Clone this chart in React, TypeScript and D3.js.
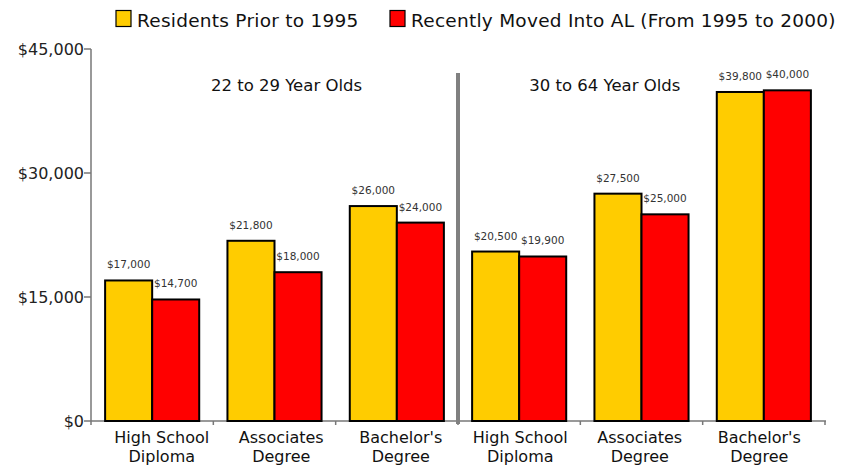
import React from "react";
import * as d3 from "d3";

const categories = ["High School|Diploma", "Associates|Degree", "Bachelor's|Degree", "High School|Diploma", "Associates|Degree", "Bachelor's|Degree"];
const residents = [17000, 21800, 26000, 20500, 27500, 39800];
const movedIn = [14700, 18000, 24000, 19900, 25000, 40000];
const seriesNames = ["Residents Prior to 1995", "Recently Moved Into AL (From 1995 to 2000)"];
const seriesColors = ["#FFCC00", "#FF0000"];
const groupTitles = ["22 to 29 Year Olds", "30 to 64 Year Olds"];
const yTicks = [0, 15000, 30000, 45000];

const W = 857, H = 465;
const left = 91, right = 825, top = 49, bottom = 421;
const font = "'DejaVu Sans', Verdana, sans-serif";

export default function App() {
  const idx = categories.map((_, i) => i);
  const x = d3.scaleBand<number>().domain(idx).range([left, right]).paddingInner(0).paddingOuter(0);
  const xLabel = d3.scaleBand<number>().domain(idx).range([102, 819]);
  const inner = d3.scaleBand<number>().domain([0, 1]).range([0, x.bandwidth()]).paddingOuter(0.3).paddingInner(0);
  const y = d3.scaleLinear().domain([0, 45000]).range([bottom, top]);
  const fmt = (v: number) => "$" + d3.format(",")(v);
  const series = [residents, movedIn];
  const bw = x.bandwidth();
  const divX = left + 3 * bw;
  const titleX = [x(1)! + bw / 2 + 12, x(4)! + bw * 0.2];

  return (
    <svg width={W} height={H} style={{ position: "absolute", left: 0, top: 0, background: "#fff" }} fontFamily={font}>
      {/* legend */}
      {seriesNames.map((n, i) => {
        const lx = i === 0 ? 116 : 390;
        return (
          <g key={n}>
            <rect x={lx} y={10.5} width={15} height={16} fill={seriesColors[i]} stroke="#000" strokeWidth={1.2} />
            <text x={lx + 21} y={26.5} fontSize={18.5} letterSpacing={0.25} fill="#111">{n}</text>
          </g>
        );
      })}
      {/* y axis */}
      <line x1={left} x2={left} y1={top} y2={bottom} stroke="#777" strokeWidth={1.5} />
      {yTicks.map((t) => (
        <g key={t}>
          <line x1={left - 7} x2={left} y1={y(t)} y2={y(t)} stroke="#777" strokeWidth={1.5} />
          <text x={left - 7} y={y(t) + 6} fontSize={16} textAnchor="end" fill="#222">{fmt(t)}</text>
        </g>
      ))}
      {/* x axis */}
      <line x1={left} x2={right + 1} y1={bottom} y2={bottom} stroke="#777" strokeWidth={1.5} />
      {d3.range(7).map((i) => (
        <line key={i} x1={left + i * bw} x2={left + i * bw} y1={bottom} y2={bottom + 4} stroke="#777" strokeWidth={1.5} />
      ))}
      {/* bars */}
      {idx.map((c) =>
        series.map((s, si) => (
          <rect key={c + "-" + si} x={x(c)! + inner(si)!} y={y(s[c])} width={inner.bandwidth()} height={bottom - y(s[c])}
            fill={seriesColors[si]} stroke="#000" strokeWidth={2} />
        ))
      )}
      {/* value labels */}
      {idx.map((c) =>
        series.map((s, si) => (
          <text key={"l" + c + "-" + si} x={x(c)! + inner(si)! + inner.bandwidth() / 2} y={y(s[c]) - 12}
            fontSize={10.5} textAnchor="middle" fill="#333">{fmt(s[c])}</text>
        ))
      )}
      {/* divider */}
      <line x1={divX} x2={divX} y1={73} y2={bottom + 3} stroke="#808080" strokeWidth={4} />
      {/* group titles */}
      {groupTitles.map((g, i) => (
        <text key={g} x={titleX[i]} y={91} fontSize={16.5} textAnchor="middle" fill="#111">{g}</text>
      ))}
      {/* category labels */}
      {idx.map((c) => {
        const lines = categories[c].split("|");
        const cx = xLabel(c)! + xLabel.bandwidth() / 2;
        return (
          <text key={"c" + c} x={cx} fontSize={16} textAnchor="middle" fill="#111">
            {lines.map((ln, li) => (
              <tspan key={li} x={cx} y={443 + li * 19}>{ln}</tspan>
            ))}
          </text>
        );
      })}
    </svg>
  );
}
